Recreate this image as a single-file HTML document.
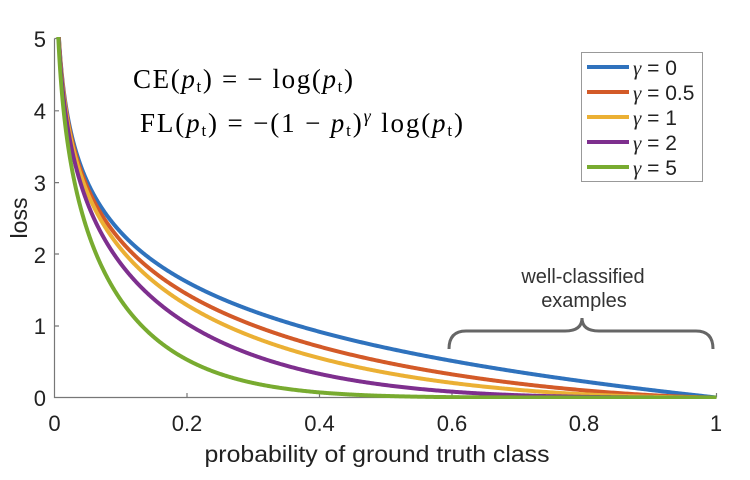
<!DOCTYPE html>
<html><head><style>
body{margin:0;background:#fff;}
svg text{font-family:"Liberation Sans",sans-serif;fill:#222;}
</style></head><body>
<svg id="s" width="750" height="475" xmlns="http://www.w3.org/2000/svg">
<defs><clipPath id="c"><rect x="54" y="37" width="664" height="362"/></clipPath></defs>
<g stroke="#777" stroke-width="1.2" fill="none">
<path d="M54.5 38.5V397.5H716.5"/>
<path d="M54.5 326H59M54.5 254H59M54.5 182.6H59M54.5 110.8H59M54.5 38.5H59"/>
<path d="M187 397.5V393M319.5 397.5V393M452 397.5V393M584 397.5V393M716.5 397.5V393"/>
</g>
<g font-size="22" text-anchor="end">
<text x="46" y="406">0</text><text x="46" y="334">1</text><text x="46" y="263">2</text>
<text x="46" y="191">3</text><text x="46" y="119">4</text><text x="46" y="47">5</text>
</g>
<g font-size="22" text-anchor="middle">
<text x="54.5" y="431">0</text><text x="187" y="431">0.2</text><text x="319.5" y="431">0.4</text>
<text x="452" y="431">0.6</text><text x="584" y="431">0.8</text><text x="716" y="431">1</text>
<text x="377" y="462" font-size="23" textLength="345" lengthAdjust="spacingAndGlyphs">probability of ground truth class</text>
<text transform="translate(27,218) rotate(-90)" font-size="23">loss</text>
</g>
<g id="curves" clip-path="url(#c)" fill="none" stroke-width="4"></g>
<g font-size="27">
<text x="133" y="88" textLength="220" lengthAdjust="spacing" style="font-family:'Liberation Serif',serif;fill:#000">CE(<tspan font-style="italic">p</tspan><tspan font-size="17" dy="4">t</tspan><tspan dy="-4">) =  − log(</tspan><tspan font-style="italic">p</tspan><tspan font-size="17" dy="4">t</tspan><tspan dy="-4">)</tspan></text>
<text x="140" y="132" textLength="323" lengthAdjust="spacing" style="font-family:'Liberation Serif',serif;fill:#000">FL(<tspan font-style="italic">p</tspan><tspan font-size="17" dy="4">t</tspan><tspan dy="-4">) = −(1 − </tspan><tspan font-style="italic">p</tspan><tspan font-size="17" dy="4">t</tspan><tspan dy="-4">)</tspan><tspan font-style="italic" font-size="18" dy="-10">γ</tspan><tspan dy="10"> log(</tspan><tspan font-style="italic">p</tspan><tspan font-size="17" dy="4">t</tspan><tspan dy="-4">)</tspan></text>
</g>
<rect x="581.5" y="52.5" width="121" height="129" fill="#fff" stroke="#999" stroke-width="1"/>
<g stroke-width="4">
<line x1="587" y1="67" x2="629" y2="67" stroke="#2f72bd"/>
<line x1="587" y1="92" x2="629" y2="92" stroke="#d35a28"/>
<line x1="587" y1="117" x2="629" y2="117" stroke="#ebb034"/>
<line x1="587" y1="142" x2="629" y2="142" stroke="#7e2f8e"/>
<line x1="587" y1="167" x2="629" y2="167" stroke="#78ab30"/>
</g>
<g font-size="21">
<text x="633" y="75"><tspan font-family="Liberation Serif" font-style="italic">γ</tspan> = 0</text>
<text x="633" y="100"><tspan font-family="Liberation Serif" font-style="italic">γ</tspan> = 0.5</text>
<text x="633" y="125"><tspan font-family="Liberation Serif" font-style="italic">γ</tspan> = 1</text>
<text x="633" y="150"><tspan font-family="Liberation Serif" font-style="italic">γ</tspan> = 2</text>
<text x="633" y="175"><tspan font-family="Liberation Serif" font-style="italic">γ</tspan> = 5</text>
</g>
<path d="M449 349 Q449 331 466 331 L565 331 Q582 331 582 318 Q582 331 599 331 L696 331 Q713 331 713 349" fill="none" stroke="#666" stroke-width="3"/>
<g font-size="20" text-anchor="middle">
<text x="583" y="283" style="fill:#333">well-classified</text>
<text x="584" y="307" style="fill:#333">examples</text>
</g>
</svg>
<script>
var g=document.getElementById('curves'),ns='http://www.w3.org/2000/svg';
var gs=[[0,'#2f72bd'],[0.5,'#d35a28'],[1,'#ebb034'],[2,'#7e2f8e'],[5,'#78ab30']];
gs.forEach(function(a){var d='';for(var i=0;i<=800;i++){var p=Math.exp(-6+6*Math.pow(i/800,0.35));if(i==800)p=1;var l=-Math.pow(1-p,a[0])*Math.log(p);var x=54.5+662*p,y=397.5-71.8*l;d+=(i?'L':'M')+x.toFixed(2)+' '+y.toFixed(2);}
var e=document.createElementNS(ns,'path');e.setAttribute('d',d);e.setAttribute('stroke',a[1]);g.appendChild(e);});
</script>
</body></html>
